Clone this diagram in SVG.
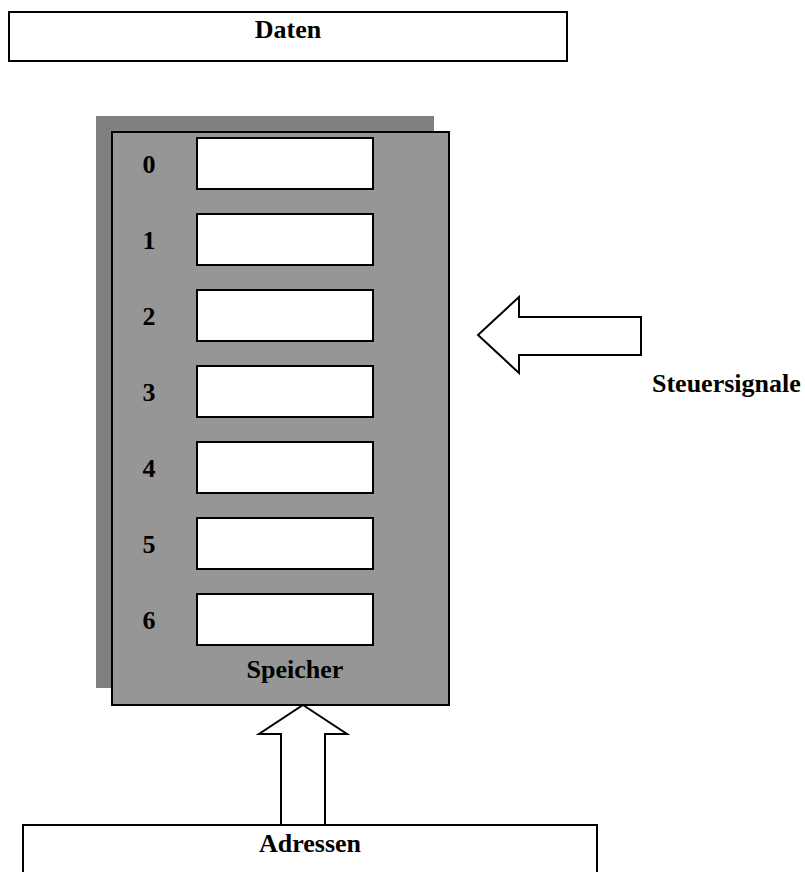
<svg xmlns="http://www.w3.org/2000/svg" width="805" height="872" viewBox="0 0 805 872">
<style>
text{font-family:"Liberation Serif","Times New Roman",serif;font-weight:bold;font-size:26px;fill:#000}
.box{fill:#fff;stroke:#000;stroke-width:2}
.cell{fill:#fff;stroke:#000;stroke-width:2}
.arrow{fill:#fff;stroke:#000;stroke-width:2;stroke-linejoin:miter}
.mid{text-anchor:middle}
</style>
<rect width="805" height="872" fill="#fff"/>
<g id="daten">
<rect class="box" x="9" y="12" width="558" height="49"/>
<text class="mid" x="288" y="38">Daten</text>
</g>
<g id="speicher">
<rect x="96" y="116" width="338" height="572" fill="#808080"/>
<rect x="112" y="132" width="337" height="573" fill="#969696" stroke="#000" stroke-width="2"/>
<text class="mid" x="295" y="678">Speicher</text>
</g>
<g id="cell0"><rect class="cell" x="197" y="138" width="176" height="51"/><text class="mid" x="149" y="173">0</text></g>
<g id="cell1"><rect class="cell" x="197" y="214" width="176" height="51"/><text class="mid" x="149" y="249">1</text></g>
<g id="cell2"><rect class="cell" x="197" y="290" width="176" height="51"/><text class="mid" x="149" y="325">2</text></g>
<g id="cell3"><rect class="cell" x="197" y="366" width="176" height="51"/><text class="mid" x="149" y="401">3</text></g>
<g id="cell4"><rect class="cell" x="197" y="442" width="176" height="51"/><text class="mid" x="149" y="477">4</text></g>
<g id="cell5"><rect class="cell" x="197" y="518" width="176" height="51"/><text class="mid" x="149" y="553">5</text></g>
<g id="cell6"><rect class="cell" x="197" y="594" width="176" height="51"/><text class="mid" x="149" y="629">6</text></g>
<g id="adressen">
<rect class="box" x="23" y="825" width="574" height="50"/>
<text class="mid" x="310" y="852">Adressen</text>
</g>
<g id="steuersignale">
<text x="652" y="392">Steuersignale</text>
</g>
<g id="connectors">
<polygon class="arrow" points="478,335 519,297 519,317 641,317 641,355 519,355 519,373"/>
<polygon class="arrow" points="303,705 347,734 325,734 325,825 281,825 281,734 259,734"/>
</g>
</svg>
